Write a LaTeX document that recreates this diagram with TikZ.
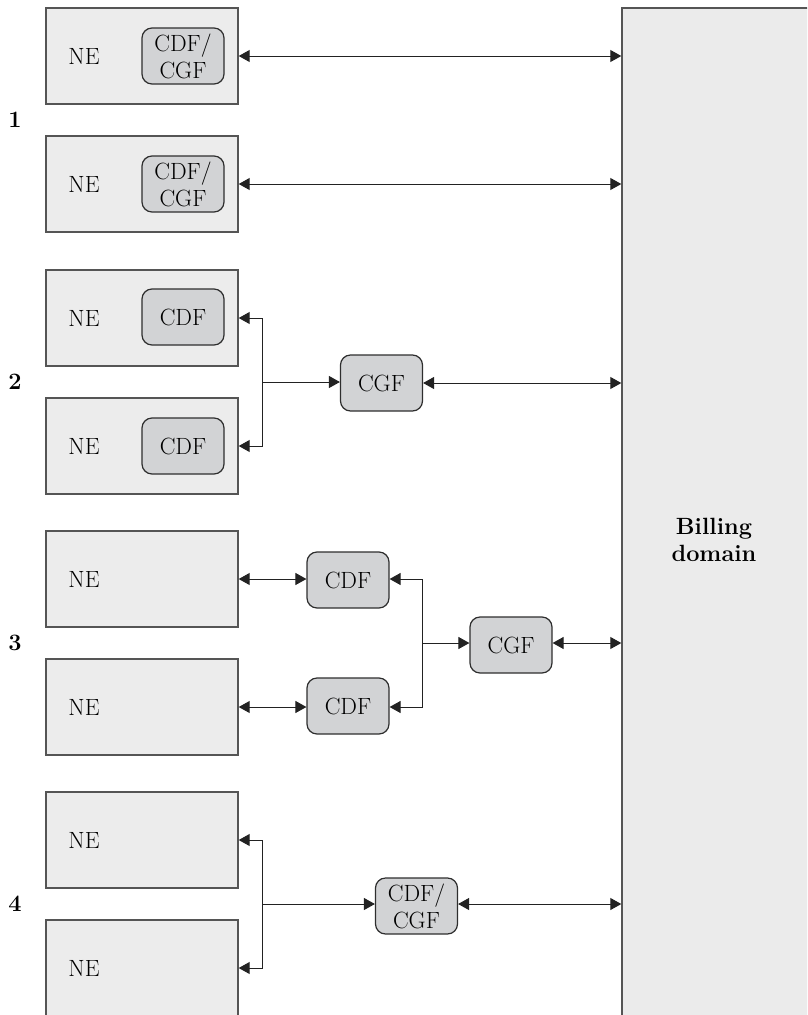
\documentclass[tikz,border=0pt]{standalone}
\usetikzlibrary{arrows.meta}
\definecolor{nefill}{HTML}{ECECEC}
\definecolor{neline}{HTML}{555555}
\definecolor{fnfill}{HTML}{D2D3D5}
\definecolor{fnline}{HTML}{2E2E2E}
\definecolor{billfill}{HTML}{EBEBEB}
\definecolor{wire}{HTML}{222222}
\newcommand\diafont{\fontsize{23.5}{27}\selectfont}
\begin{document}
\begin{tikzpicture}[x=1pt,y=-1pt,
  nebox/.style={draw=neline, fill=nefill, line width=1.4pt,
    minimum width=192pt, minimum height=96pt, inner sep=0pt},
  fnbox/.style={draw=fnline, fill=fnfill, line width=1.2pt,
    rounded corners=10pt, minimum width=82pt, minimum height=56pt,
    inner sep=0pt, align=center, font=\diafont},
  txt/.style={font=\diafont, inner sep=0pt},
  num/.style={font=\diafont\bfseries, inner sep=0pt},
  tip/.style={line width=1pt, draw=wire,
    -{Triangle[length=11pt,width=12pt]}},
  both/.style={line width=1pt, draw=wire,
    {Triangle[length=11pt,width=12pt]}-{Triangle[length=11pt,width=12pt]}}]
\useasboundingbox (0,0) rectangle (807,1015);
\clip (0,0) rectangle (807,1015);

% billing domain, running off the right and bottom edges
\node[draw=neline, fill=billfill, line width=1.4pt, inner sep=0pt,
  minimum width=220pt, minimum height=1030pt] (bill) at (732,523) {};
\node[txt, font=\diafont\bfseries, align=center] (billtxt) at (714,540) {Billing\\domain};

% group 1: CDF/CGF inside the NE
\node[nebox] (ne1a) at (142,56) {};
\node[txt] (ne1at) at (84,56) {NE};
\node[fnbox] (f1a) at (183,56) {CDF/\\CGF};
\node[nebox] (ne1b) at (142,184) {};
\node[txt] (ne1bt) at (84,184) {NE};
\node[fnbox] (f1b) at (183,184) {CDF/\\CGF};
\node[num] (n1) at (15,120) {1};
\draw[both] (ne1a.east) -- (ne1a.east -| bill.west);
\draw[both] (ne1b.east) -- (ne1b.east -| bill.west);

% group 2: CDF inside the NE, separate CGF
\node[nebox] (ne2a) at (142,318) {};
\node[txt] (ne2at) at (84,318) {NE};
\node[fnbox] (f2a) at (183,317) {CDF};
\node[nebox] (ne2b) at (142,446) {};
\node[txt] (ne2bt) at (84,446) {NE};
\node[fnbox] (f2b) at (183,446) {CDF};
\node[num] (n2) at (15,382) {2};
\node[fnbox] (cgf2) at (381.5,383) {CGF};
\coordinate (j2) at (262,382);
\draw[tip] (j2) |- (ne2a.east);
\draw[tip] (j2) |- (ne2b.east);
\draw[tip] (j2) -- (j2 -| cgf2.west);
\draw[both] (cgf2.east) -- (cgf2.east -| bill.west);

% group 3: separate CDFs and CGF
\node[nebox] (ne3a) at (142,579) {};
\node[txt] (ne3at) at (84,579) {NE};
\node[nebox] (ne3b) at (142,707) {};
\node[txt] (ne3bt) at (84,707) {NE};
\node[num] (n3) at (15,643) {3};
\node[fnbox] (f3a) at (348,580) {CDF};
\node[fnbox] (f3b) at (348,706) {CDF};
\node[fnbox] (cgf3) at (511,645) {CGF};
\coordinate (j3) at (422,643);
\draw[both] (ne3a.east) -- (ne3a.east -| f3a.west);
\draw[both] (ne3b.east) -- (ne3b.east -| f3b.west);
\draw[tip] (j3) |- (ne3a.east -| f3a.east);
\draw[tip] (j3) |- (ne3b.east -| f3b.east);
\draw[tip] (j3) -- (j3 -| cgf3.west);
\draw[both] (j3 -| cgf3.east) -- (j3 -| bill.west);

% group 4: combined CDF/CGF outside the NE
\node[nebox] (ne4a) at (142,840) {};
\node[txt] (ne4at) at (84,840) {NE};
\node[nebox, minimum height=110pt] (ne4b) at (142,975) {};
\node[txt] (ne4bt) at (84,968) {NE};
\node[num] (n4) at (15,904) {4};
\node[fnbox] (f4) at (416.5,906) {CDF/\\CGF};
\coordinate (j4) at (262,904);
\draw[tip] (j4) |- (ne4a.east);
\draw[tip] (j4) |- (ne4bt -| ne4b.east);
\draw[tip] (j4) -- (j4 -| f4.west);
\draw[both] (j4 -| f4.east) -- (j4 -| bill.west);
\end{tikzpicture}
\end{document}
